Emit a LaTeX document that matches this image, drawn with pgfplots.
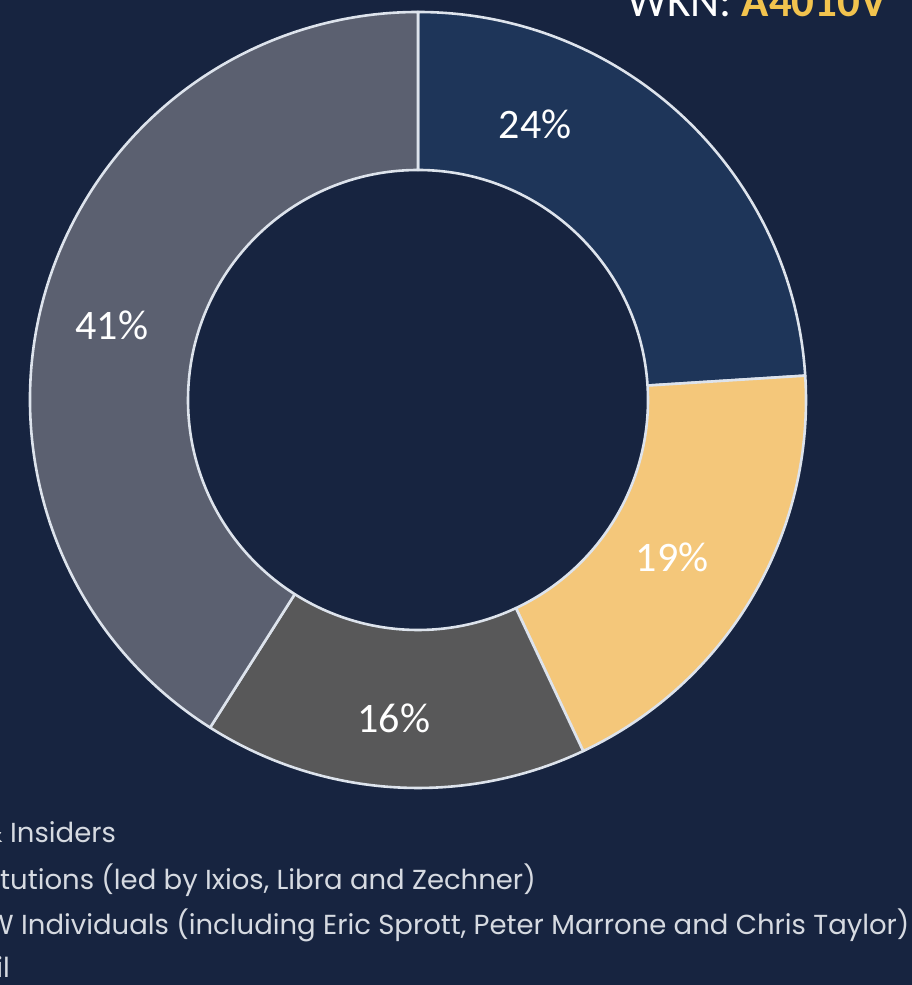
\documentclass[border=0pt]{standalone}
\usepackage{fontspec}
\setmainfont{Carlito}
\newfontfamily\legfont{Poppins}
\usepackage{pgfplots}
\pgfplotsset{compat=1.18}
\definecolor{bgcol}{HTML}{172440}
\definecolor{sliceA}{HTML}{1E3559}
\definecolor{sliceB}{HTML}{F4C77A}
\definecolor{sliceC}{HTML}{585859}
\definecolor{sliceD}{HTML}{5B6070}
\definecolor{edge}{HTML}{DDE3EC}
\definecolor{wkn}{HTML}{F2C34E}
\definecolor{legtext}{HTML}{D6DAE1}
\begin{document}
\begin{tikzpicture}
\begin{axis}[name=ax, at={(0,0)}, anchor=south west,
  width=912pt, height=985pt, scale only axis,
  xmin=0, xmax=912, ymin=0, ymax=985, hide axis, clip=true]
\fill[bgcol] (axis cs:0,0) rectangle (axis cs:912,985);
\gdef\startang{90}
\foreach \v/\col in {24/sliceA,19/sliceB,16/sliceC,41/sliceD}{
  \pgfmathsetmacro\endang{\startang-3.6*\v}
  \edef\doit{\noexpand\filldraw[fill=\col, draw=edge, line width=2.6pt, line join=round]
    ([shift={(axis cs:418,585)}]\startang:230pt) --
    ([shift={(axis cs:418,585)}]\startang:388pt)
    arc[start angle=\startang, end angle=\endang, radius=388pt] --
    ([shift={(axis cs:418,585)}]\endang:230pt)
    arc[start angle=\endang, end angle=\startang, radius=230pt] -- cycle;}
  \doit
  \xdef\startang{\endang}
}
\node[white, font=\fontsize{42}{50}\selectfont] at (axis cs:535,861) {24\%};
\node[white, font=\fontsize{42}{50}\selectfont] at (axis cs:112,660) {41\%};
\node[white, font=\fontsize{42}{50}\selectfont] at (axis cs:672,428) {19\%};
\node[white, font=\fontsize{42}{50}\selectfont] at (axis cs:394,267) {16\%};
\node[anchor=base west, inner sep=0pt, font=\fontsize{45}{52}\selectfont] at (axis cs:627,968)
  {\color{white}WKN: \textcolor{wkn}{\bfseries A4010V}};
\node[anchor=base west, inner sep=0pt, legtext, font=\legfont\fontsize{27.5}{32}\selectfont] at (axis cs:10,142) {Insiders};
\node[anchor=base east, inner sep=0pt, legtext, font=\legfont\fontsize{27.5}{32}\selectfont] at (axis cs:3,142) {Management \&};
\node[anchor=base west, inner sep=0pt, legtext, font=\legfont\fontsize{27.5}{32}\selectfont] at (axis cs:0,95) {tutions (led by Ixios, Libra and Zechner)};
\node[anchor=base east, inner sep=0pt, legtext, font=\legfont\fontsize{27.5}{32}\selectfont] at (axis cs:14,50) {HNW};
\node[anchor=base west, inner sep=0pt, legtext, font=\legfont\fontsize{27.5}{32}\selectfont] at (axis cs:21,50) {Individuals (including Eric Sprott, Peter Marrone and Chris Taylor)};
\node[anchor=base east, inner sep=0pt, legtext, font=\legfont\fontsize{27.5}{32}\selectfont] at (axis cs:10,7) {Retail};
\end{axis}
\pgfresetboundingbox
\useasboundingbox (ax.south west) rectangle (ax.north east);
\end{tikzpicture}
\end{document}
